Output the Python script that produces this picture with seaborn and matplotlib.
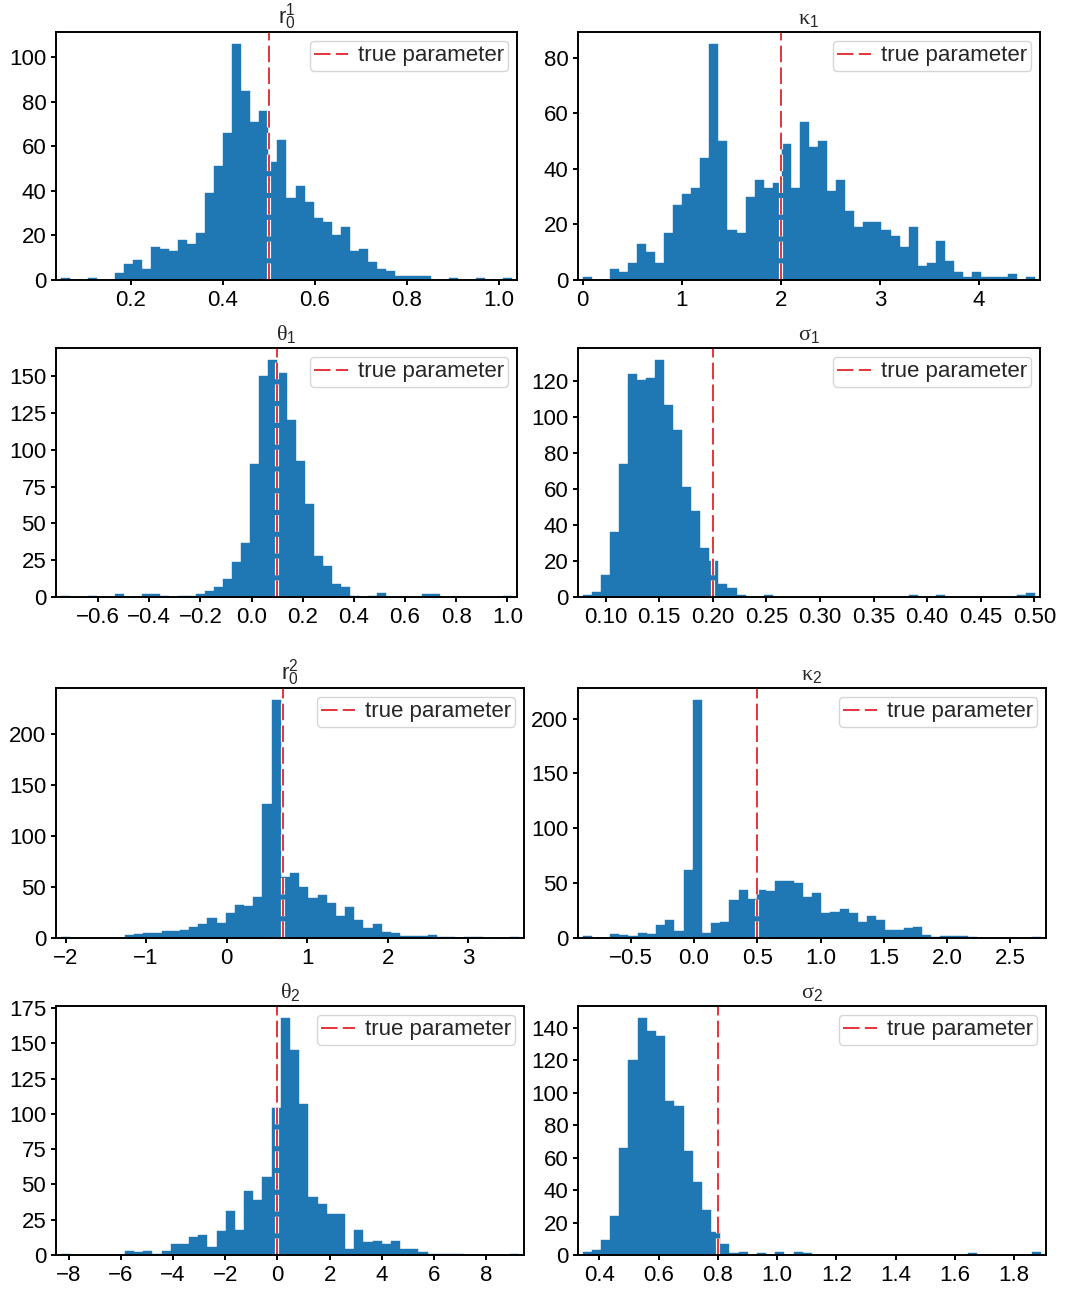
import numpy as np
import pandas as pd
import matplotlib
matplotlib.use("Agg")
import matplotlib.pyplot as plt
import matplotlib.patheffects as pe
import seaborn as sns

# ---------------- data (histogram counts, 50 bins each) -------------
titles = [r'$\mathsf{r}_\mathsf{0}^\mathsf{1}$', r'$\mathrm{\kappa}_\mathsf{1}$',
          r'$\mathrm{\theta}_\mathsf{1}$', r'$\mathrm{\sigma}_\mathsf{1}$',
          r'$\mathsf{r}_\mathsf{0}^\mathsf{2}$', r'$\mathrm{\kappa}_\mathsf{2}$',
          r'$\mathrm{\theta}_\mathsf{2}$', r'$\mathrm{\sigma}_\mathsf{2}$']

true_params = [0.5, 2.0, 0.1, 0.2, 0.7, 0.5, 0.0, 0.8]

# data range (min, max) of each sample
ranges = [(0.047, 1.030), (0.0, 4.571), (-0.747, 1.020), (0.0785, 0.501),
          (-2.062, 3.634), (-0.881, 2.746), (-8.305, 9.272), (0.3432, 1.8927)]

counts_r01 = [1, 0, 0, 1, 0, 0, 3, 7, 9, 5, 15, 14, 13, 18, 16, 21, 39, 51, 66, 106,
              85, 71, 76, 53, 63, 37, 42, 35, 28, 26, 20, 24, 13, 14, 8, 5, 4, 2, 2, 2,
              2, 0, 0, 1, 0, 0, 1, 0, 0, 1]
counts_kappa1 = [1, 0, 0, 4, 3, 6, 13, 10, 6, 17, 27, 31, 33, 44, 85, 50, 18, 17, 30, 36,
                 33, 35, 49, 33, 57, 48, 50, 32, 36, 25, 19, 21, 21, 18, 16, 12, 19, 5, 6, 14,
                 7, 3, 1, 3, 1, 1, 1, 2, 0, 1]
counts_theta1 = [1, 0, 0, 1, 0, 0, 2, 0, 0, 2, 2, 1, 0, 1, 1, 2, 4, 7, 12, 24,
                 37, 90, 150, 161, 152, 120, 92, 63, 28, 21, 9, 7, 1, 0, 1, 3, 0, 0, 0, 0,
                 2, 2, 0, 0, 0, 0, 0, 0, 0, 1]
counts_sigma1 = [1, 3, 12, 36, 74, 124, 121, 122, 132, 107, 93, 61, 48, 27, 20, 7, 5, 1, 0, 0,
                 1, 0, 0, 0, 0, 0, 0, 0, 0, 0, 0, 0, 0, 0, 0, 0, 1, 0, 0, 1,
                 0, 0, 0, 0, 0, 0, 0, 0, 1, 2]
counts_r02 = [1, 0, 0, 0, 0, 0, 0, 3, 4, 5, 5, 7, 7, 8, 11, 14, 20, 15, 24, 32,
              31, 40, 131, 233, 60, 64, 50, 39, 42, 34, 22, 30, 18, 10, 14, 6, 5, 2, 2, 2,
              3, 1, 1, 0, 1, 1, 0, 0, 0, 1]
counts_kappa2 = [2, 0, 0, 4, 3, 2, 5, 4, 12, 16, 6, 62, 217, 5, 14, 15, 35, 44, 36, 44,
                 43, 52, 52, 50, 37, 41, 23, 24, 26, 23, 15, 20, 16, 7, 7, 9, 10, 3, 1, 2,
                 2, 2, 1, 0, 0, 0, 0, 0, 0, 1]
counts_theta2 = [1, 0, 0, 0, 0, 0, 0, 3, 2, 3, 1, 3, 8, 8, 13, 14, 6, 17, 31, 18,
                 45, 39, 55, 104, 168, 145, 107, 41, 36, 29, 29, 4, 18, 9, 10, 8, 10, 4, 4, 2,
                 1, 1, 1, 1, 0, 0, 0, 0, 0, 1]
counts_sigma2 = [2, 3, 9, 24, 66, 120, 146, 138, 135, 95, 92, 64, 45, 28, 14, 7, 1, 2, 0, 1,
                 0, 2, 0, 2, 1, 0, 0, 0, 0, 0, 0, 0, 0, 0, 0, 0, 0, 0, 0, 0,
                 0, 0, 1, 0, 0, 0, 0, 0, 0, 2]
all_counts = [counts_r01, counts_kappa1, counts_theta1, counts_sigma1,
              counts_r02, counts_kappa2, counts_theta2, counts_sigma2]

xticks = [[0.2, 0.4, 0.6, 0.8, 1.0],
          [0, 1, 2, 3, 4],
          [-0.6, -0.4, -0.2, 0.0, 0.2, 0.4, 0.6, 0.8, 1.0],
          [0.10, 0.15, 0.20, 0.25, 0.30, 0.35, 0.40, 0.45, 0.50],
          [-2, -1, 0, 1, 2, 3],
          [-0.5, 0.0, 0.5, 1.0, 1.5, 2.0, 2.5],
          [-8, -6, -4, -2, 0, 2, 4, 6, 8],
          [0.4, 0.6, 0.8, 1.0, 1.2, 1.4, 1.6, 1.8]]
yticks = [[0, 20, 40, 60, 80, 100],
          [0, 20, 40, 60, 80],
          [0, 25, 50, 75, 100, 125, 150],
          [0, 20, 40, 60, 80, 100, 120],
          [0, 50, 100, 150, 200],
          [0, 50, 100, 150, 200],
          [0, 25, 50, 75, 100, 125, 150, 175],
          [0, 20, 40, 60, 80, 100, 120, 140]]
legend_label = "true parameter"

# ---------------- style ----------------
sns.set_style("ticks")
plt.rcParams['font.family'] = ['Liberation Sans', 'DejaVu Sans']
plt.rcParams['mathtext.fontset'] = 'custom'
plt.rcParams['mathtext.rm'] = 'Liberation Serif'
plt.rcParams['mathtext.it'] = 'Liberation Serif:italic'
plt.rcParams['mathtext.sf'] = 'Liberation Sans'
plt.rcParams['axes.linewidth'] = 1.4
plt.rcParams['axes.edgecolor'] = 'black'
plt.rcParams['xtick.major.width'] = 1.4
plt.rcParams['ytick.major.width'] = 1.4
plt.rcParams['xtick.major.size'] = 3.5
plt.rcParams['ytick.major.size'] = 3.5
plt.rcParams['xtick.color'] = 'black'
plt.rcParams['ytick.color'] = 'black'
FS = 16

W, H = 1068, 1293
fig = plt.figure(figsize=(W / 100, H / 100), dpi=100)
fig.patch.set_facecolor('white')

boxes = [(56, 32, 517, 280), (578, 32, 1040, 280),
         (56, 348, 517, 597), (578, 348, 1040, 597),
         (56, 688, 524, 938), (578, 688, 1046, 938),
         (56, 1006, 524, 1255), (578, 1006, 1046, 1255)]

bar_color = '#1f77b4'
line_color = '#e8333a'

for k in range(8):
    l, t, r, b = boxes[k]
    ax = fig.add_axes([l / W, 1 - b / H, (r - l) / W, (b - t) / H])
    lo, hi = ranges[k]
    edges = np.linspace(lo, hi, len(all_counts[k]) + 1)
    df = pd.DataFrame({"value": 0.5 * (edges[:-1] + edges[1:]),
                       "count": np.asarray(all_counts[k], dtype=float)})
    sns.histplot(data=df, x="value", weights="count", bins=edges.tolist(), ax=ax,
                 color=bar_color, alpha=1.0, edgecolor=bar_color, linewidth=0.3)
    ax.axvline(true_params[k], color=line_color, lw=1.4, linestyle=(0, (8.5, 2.7)),
               label=legend_label,
               path_effects=[pe.Stroke(linewidth=3.0, foreground='white'), pe.Normal()])
    ax.margins(x=0.01)
    ax.set_xticks(xticks[k])
    ax.set_yticks(yticks[k])
    ax.set_ylim(0, max(all_counts[k]) * 1.05)
    ax.tick_params(labelsize=FS, colors='black')
    ax.set_xlabel('')
    ax.set_ylabel('')
    ax.set_title(titles[k], fontsize=FS, pad=6)
    for s in ax.spines.values():
        s.set_visible(True)
        s.set_color('black')
        s.set_linewidth(1.4)
    leg = ax.legend(loc='upper right', fontsize=FS, handlelength=1.5,
                    handletextpad=0.45, borderpad=0.2, borderaxespad=0.4)
    leg.get_frame().set_linewidth(1.0)

fig.savefig("out.png", dpi=100, facecolor='white')
